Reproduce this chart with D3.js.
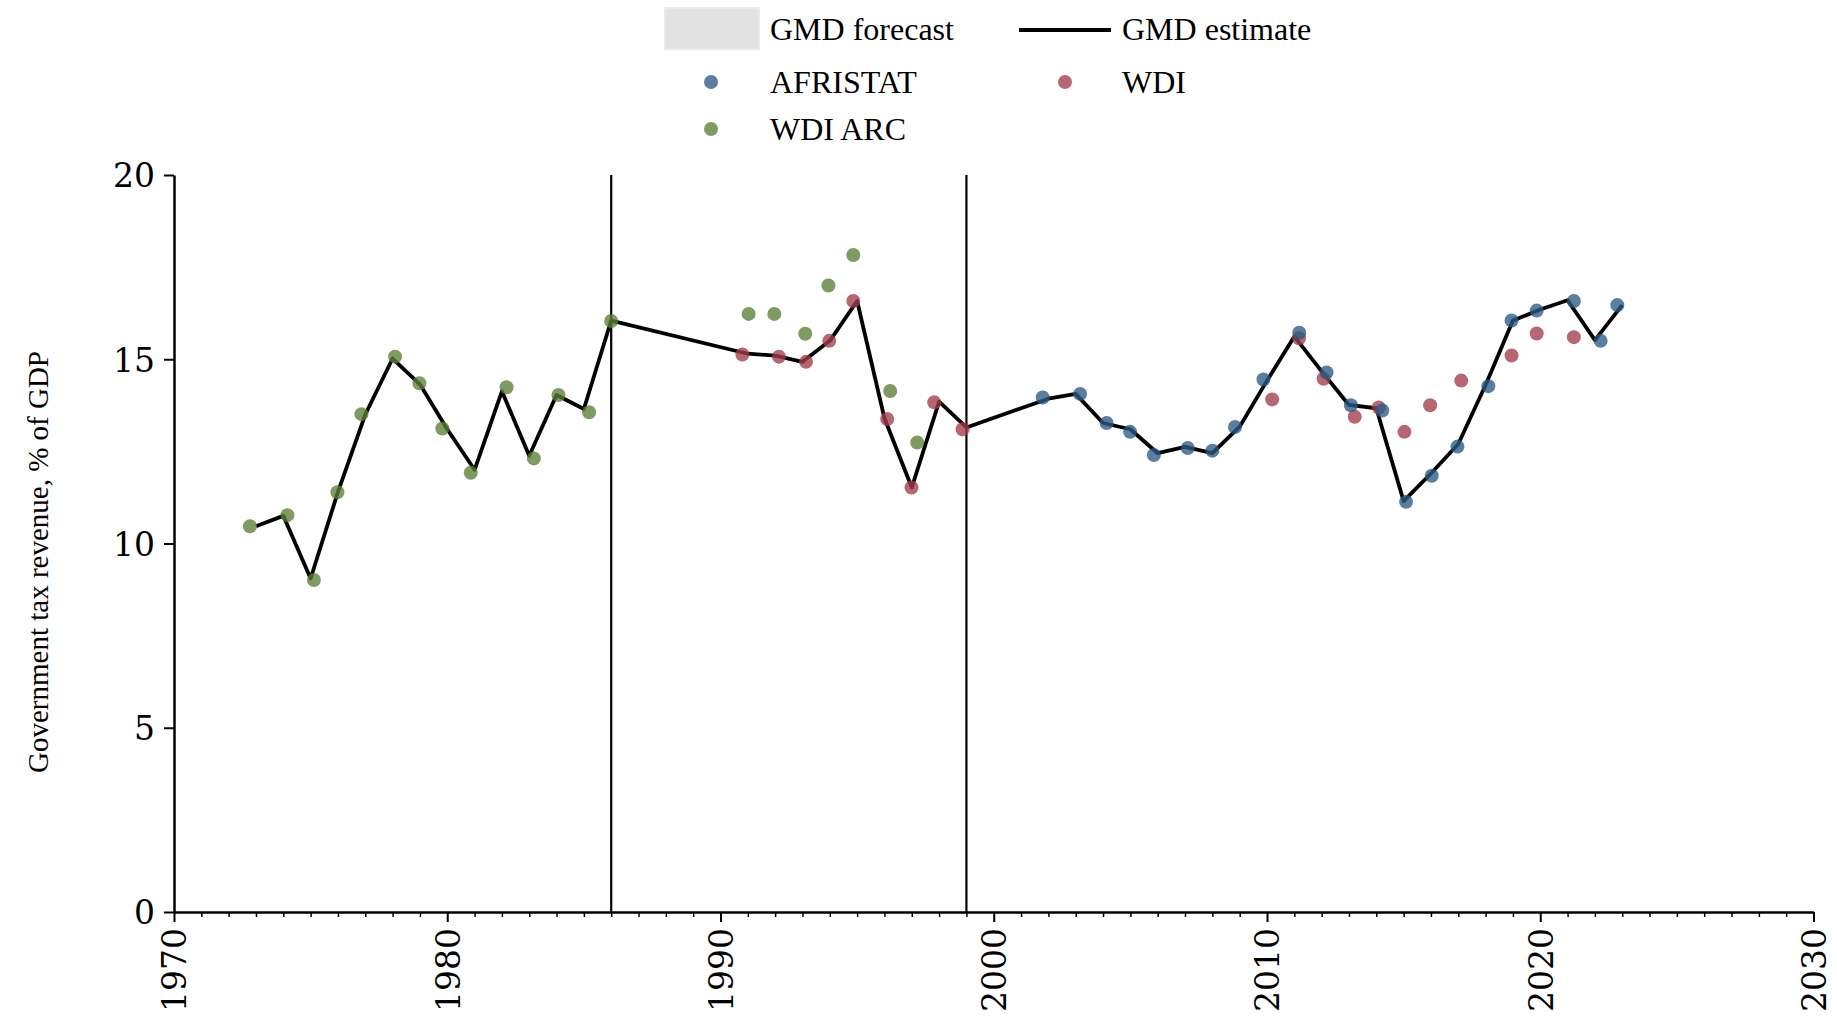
<!DOCTYPE html>
<html>
<head>
<meta charset="utf-8">
<script src="https://cdn.jsdelivr.net/npm/d3@7"></script>
<style>
  html, body { margin: 0; padding: 0; background: #ffffff; }
  svg { display: block; }
</style>
</head>
<body>
<svg id="chart" width="1837" height="1017"></svg>
<script>
// ---------------- DATA ----------------
const estimateYears = [1973,1974,1975,1976,1977,1978,1979,1980,1981,1982,1983,1984,1985,1986,
  1991,1992,1993,1994,1995,1996,1997,1998,1999,
  2002,2003,2004,2005,2006,2007,2008,2009,2010,2011,2012,2013,2014,2015,2016,2017,2018,2019,2020,2021,2022,2023];
const estimateValues = [10.47,10.75,9.05,11.4,13.5,15.02,14.32,13.1,12.0,14.13,12.38,14.03,13.65,16.05,
  15.15,15.1,14.93,15.5,16.58,13.4,11.52,13.85,13.15,
  13.93,14.06,13.27,13.1,12.45,12.62,12.45,13.17,14.42,15.62,14.67,13.76,13.67,11.15,11.9,12.7,14.3,16.05,16.35,16.6,15.52,16.47];

const afristatYears = [2001.79,2003.16,2004.13,2004.99,2005.86,2007.10,2008.0,2008.83,2009.87,2011.18,2012.18,2013.07,2014.22,2015.09,2016.03,2016.97,2018.10,2018.95,2019.87,2021.23,2022.21,2022.82];
const afristatValues = [13.96,14.06,13.27,13.03,12.40,12.59,12.52,13.16,14.45,15.72,14.64,13.75,13.61,11.13,11.84,12.63,14.27,16.05,16.32,16.58,15.50,16.47];

const wdiYears = [1990.80,1992.14,1993.13,1993.98,1994.86,1996.10,1996.99,1997.82,1998.86,
  2010.19,2011.17,2012.07,2013.21,2014.09,2015.03,2015.97,2017.11,2018.95,2019.87,2021.23];
const wdiValues = [15.13,15.07,14.93,15.50,16.58,13.38,11.52,13.83,13.10,
  13.91,15.57,14.47,13.44,13.69,13.03,13.75,14.42,15.10,15.70,15.60];

const wdiArcYears = [1972.78,1974.15,1975.12,1975.98,1976.86,1978.09,1978.98,1979.82,1980.86,1982.17,1983.17,1984.07,1985.19,1986.0,
  1991.03,1991.97,1993.10,1993.95,1994.86,1996.21,1997.20];
const wdiArcValues = [10.47,10.77,9.01,11.39,13.51,15.07,14.35,13.12,11.92,14.24,12.31,14.03,13.56,16.04,
  16.23,16.23,15.69,17.0,17.83,14.14,12.74];

const breakYears = [1986, 1999];
const xTicks = [1970,1980,1990,2000,2010,2020,2030];
const yTicks = [0,5,10,15,20];
const yTitle = "Government tax revenue, % of GDP";
const legendItems = ["GMD forecast","GMD estimate","AFRISTAT","WDI","WDI ARC"];

// ---------------- STYLE ----------------
const colors = { afristat: "#2c5a85", wdi: "#a23c49", arc: "#5a7f36" };
const dotOpacity = 0.78;
const dotR = 7;
const lineW = 3.8;

const svg = d3.select("#chart");
const mLeft = 174, mRight = 1813.5, mTop = 175, mBottom = 912;

const x = d3.scaleLinear().domain([1970, 2030]).range([mLeft, mRight]);
const y = d3.scaleLinear().domain([0, 20]).range([mBottom, mTop]);

// vertical break lines
svg.selectAll("line.brk").data(breakYears).enter().append("line")
  .attr("class", "brk")
  .attr("x1", d => x(d)).attr("x2", d => x(d))
  .attr("y1", y(0)).attr("y2", y(20))
  .attr("stroke", "#000").attr("stroke-width", 2.2);

// minor x ticks
const xMinor = d3.range(1970, 2031).filter(v => v % 10 !== 0);
const xAxisMinor = d3.axisBottom(x).tickValues(xMinor).tickSize(5).tickFormat("");
const gMinor = svg.append("g").attr("transform", `translate(0,${mBottom})`).call(xAxisMinor);
gMinor.select(".domain").remove();
gMinor.selectAll(".tick line").attr("stroke", "#000").attr("stroke-width", 1.5);

// major x axis
const xAxis = d3.axisBottom(x).tickValues(xTicks).tickSize(10).tickSizeOuter(0).tickFormat(d3.format("d"));
const gx = svg.append("g").attr("transform", `translate(0,${mBottom})`).call(xAxis);
gx.select(".domain").attr("stroke", "#000").attr("stroke-width", 2.5);
gx.selectAll(".tick line").attr("stroke", "#000").attr("stroke-width", 2);
gx.selectAll(".tick text")
  .attr("font-family", "DejaVu Serif").attr("font-size", 33).attr("fill", "#000")
  .attr("transform", "rotate(-90)")
  .attr("text-anchor", "end")
  .attr("x", -16).attr("y", 0).attr("dy", "0.36em");

// y axis
const yAxis = d3.axisLeft(y).tickValues(yTicks).tickSize(10).tickSizeOuter(0).tickFormat(d3.format("d"));
const gy = svg.append("g").attr("transform", `translate(${mLeft},0)`).call(yAxis);
gy.select(".domain").attr("stroke", "#000").attr("stroke-width", 2.5);
gy.selectAll(".tick line").attr("stroke", "#000").attr("stroke-width", 2);
gy.selectAll(".tick text")
  .attr("font-family", "DejaVu Serif").attr("font-size", 33).attr("fill", "#000")
  .attr("x", -19).attr("dy", "0.36em");

// y title
svg.append("text")
  .attr("transform", `translate(48,562) rotate(-90)`)
  .attr("text-anchor", "middle")
  .attr("font-family", "Liberation Serif").attr("font-size", 29).attr("fill", "#000")
  .text(yTitle);

// estimate line
const est = estimateYears.map((yr, i) => ({ yr, v: estimateValues[i] }));
const line = d3.line().x(d => x(d.yr)).y(d => y(d.v));
svg.append("path").datum(est)
  .attr("d", line).attr("fill", "none").attr("stroke", "#000")
  .attr("stroke-width", lineW).attr("stroke-linejoin", "round");

function dots(years, vals, color) {
  svg.append("g").selectAll("circle").data(years.map((yr, i) => ({ yr, v: vals[i] })))
    .enter().append("circle")
    .attr("cx", d => x(d.yr)).attr("cy", d => y(d.v)).attr("r", dotR)
    .attr("fill", color).attr("fill-opacity", dotOpacity);
}
dots(wdiArcYears, wdiArcValues, colors.arc);
dots(wdiYears, wdiValues, colors.wdi);
dots(afristatYears, afristatValues, colors.afristat);

// legend
const lg = svg.append("g");
lg.append("rect").attr("x", 665).attr("y", 8).attr("width", 94).attr("height", 41)
  .attr("fill", "#e2e2e2").attr("stroke", "#e9e9e9").attr("stroke-width", 2);
function ltext(tx, ty, s) {
  lg.append("text").attr("x", tx).attr("y", ty)
    .attr("font-family", "Liberation Serif").attr("font-size", 32).attr("fill", "#000").text(s);
}
ltext(770, 40, legendItems[0]);
lg.append("line").attr("x1", 1019).attr("x2", 1111).attr("y1", 30).attr("y2", 30)
  .attr("stroke", "#000").attr("stroke-width", lineW);
ltext(1122, 40, legendItems[1]);
lg.append("circle").attr("cx", 711).attr("cy", 82).attr("r", dotR).attr("fill", colors.afristat).attr("fill-opacity", dotOpacity);
ltext(770, 93, legendItems[2]);
lg.append("circle").attr("cx", 1065).attr("cy", 82).attr("r", dotR).attr("fill", colors.wdi).attr("fill-opacity", dotOpacity);
ltext(1122, 93, legendItems[3]);
lg.append("circle").attr("cx", 711).attr("cy", 129).attr("r", dotR).attr("fill", colors.arc).attr("fill-opacity", dotOpacity);
ltext(770, 140, legendItems[4]);
</script>
</body>
</html>
